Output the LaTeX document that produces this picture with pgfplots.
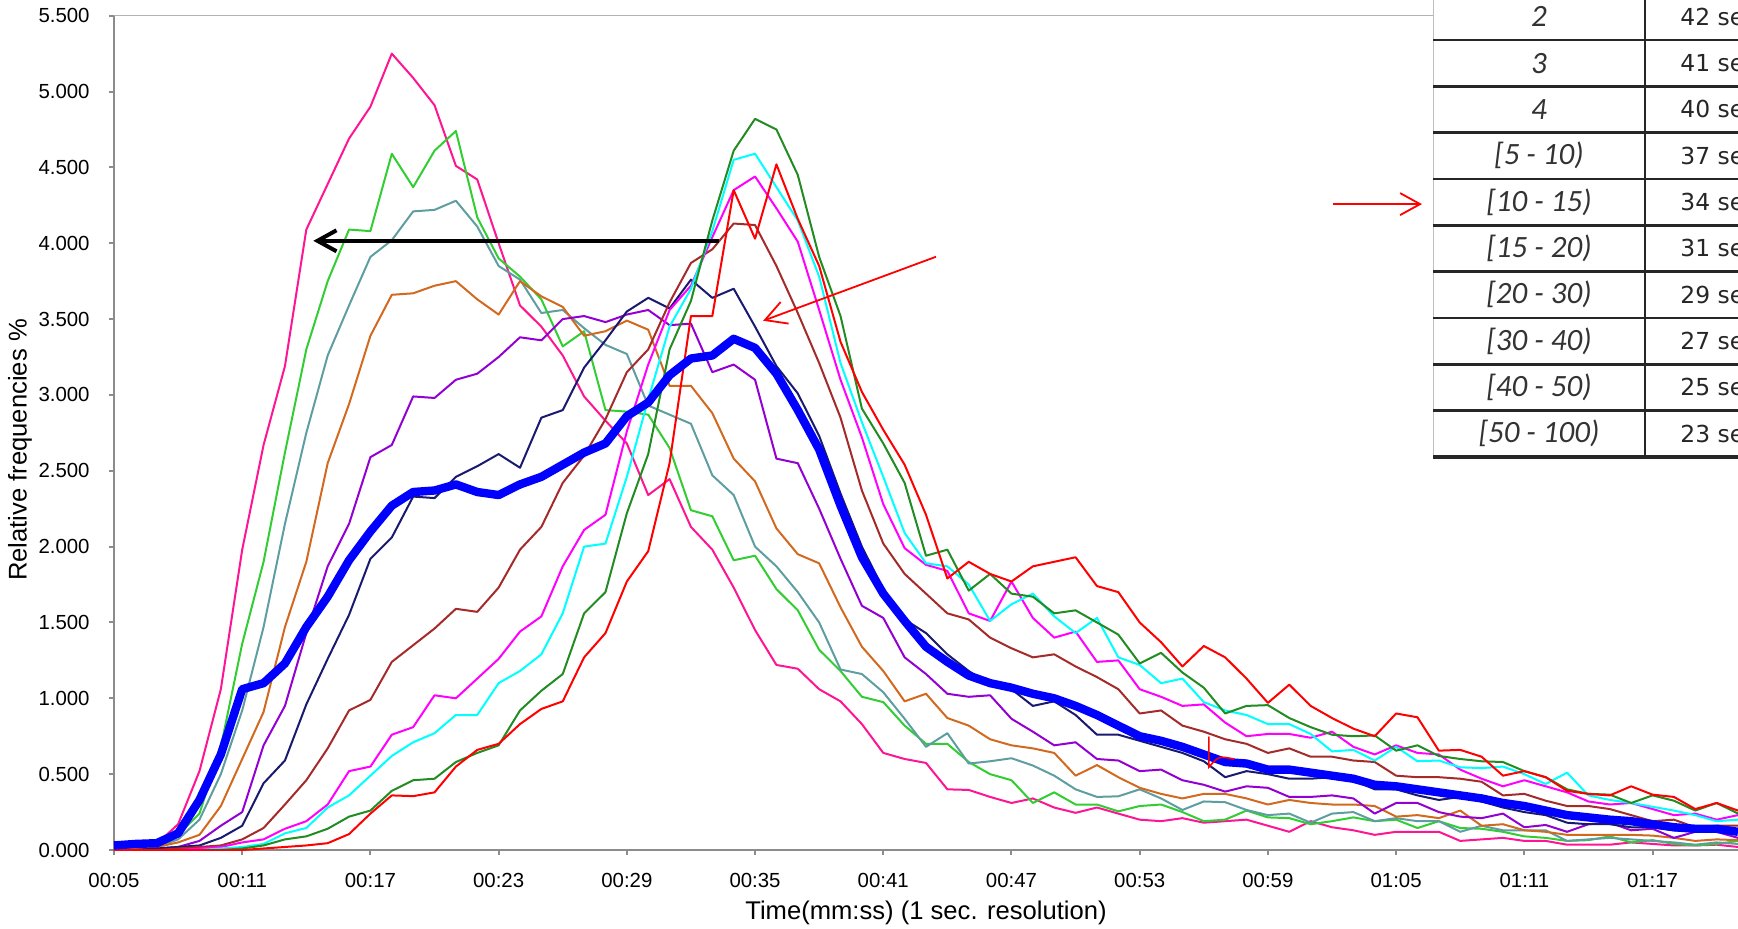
\documentclass[border=0pt]{standalone}
\usepackage{fontspec}
\setmainfont{Liberation Sans}
\newfontfamily\carlito{Carlito}
\newfontfamily\dejavu{DejaVu Sans}
\usepackage{pgfplots}
\pgfplotsset{compat=1.18}
\usepackage{pgfplotstable}
\usetikzlibrary{arrows.meta}

\definecolor{cHP}{HTML}{FF1493}
\definecolor{cLG}{HTML}{32CD32}
\definecolor{cCB}{HTML}{5F9EA0}
\definecolor{cOR}{HTML}{D2691E}
\definecolor{cDV}{HTML}{9400D3}
\definecolor{cNV}{HTML}{191970}
\definecolor{cBL}{HTML}{0000FF}
\definecolor{cBR}{HTML}{A52A2A}
\definecolor{cMG}{HTML}{FF00FF}
\definecolor{cCY}{HTML}{00FFFF}
\definecolor{cFG}{HTML}{228B22}
\definecolor{cRD}{HTML}{FF0000}
\definecolor{axgray}{HTML}{8C8C8C}

\pgfplotstableread{
t hp lg cb or dv nv bl br mg cy fg rd
5 0.02 0.00 0.01 0.00 0.00 0.00 0.03 0.00 0.00 0.00 0.00 0.00
6 0.05 0.01 0.01 0.01 0.00 0.00 0.04 0.00 0.00 0.00 0.00 0.00
7 0.04 0.02 0.02 0.02 0.01 0.01 0.045 0.00 0.00 0.00 0.00 0.00
8 0.17 0.10 0.07 0.05 0.02 0.02 0.11 0.01 0.00 0.00 0.00 0.00
9 0.52 0.24 0.20 0.10 0.06 0.03 0.33 0.02 0.01 0.00 0.00 0.00
10 1.06 0.68 0.50 0.29 0.16 0.08 0.63 0.03 0.02 0.01 0.00 0.00
11 1.98 1.36 0.92 0.60 0.25 0.16 1.06 0.07 0.05 0.02 0.01 0.00
12 2.67 1.90 1.47 0.91 0.69 0.44 1.10 0.145 0.07 0.04 0.03 0.01
13 3.19 2.62 2.15 1.47 0.95 0.59 1.23 0.30 0.14 0.11 0.07 0.02
14 4.09 3.30 2.75 1.90 1.43 0.96 1.47 0.46 0.19 0.145 0.09 0.03
15 4.39 3.75 3.26 2.55 1.87 1.26 1.67 0.67 0.30 0.28 0.14 0.045
16 4.69 4.09 3.59 2.94 2.15 1.55 1.91 0.92 0.52 0.36 0.22 0.105
17 4.90 4.08 3.91 3.39 2.59 1.92 2.10 0.99 0.55 0.49 0.26 0.24
18 5.25 4.59 4.02 3.66 2.67 2.06 2.27 1.24 0.76 0.62 0.39 0.36
19 5.09 4.37 4.21 3.67 2.99 2.33 2.36 1.35 0.81 0.71 0.46 0.355
20 4.91 4.61 4.22 3.72 2.98 2.32 2.37 1.46 1.02 0.77 0.47 0.38
21 4.51 4.74 4.28 3.75 3.10 2.46 2.41 1.59 1.00 0.89 0.58 0.55
22 4.42 4.17 4.11 3.63 3.14 2.53 2.36 1.57 1.13 0.89 0.64 0.66
23 4.00 3.90 3.85 3.53 3.25 2.61 2.34 1.73 1.26 1.10 0.69 0.70
24 3.59 3.78 3.76 3.75 3.38 2.52 2.41 1.98 1.44 1.18 0.92 0.83
25 3.45 3.63 3.54 3.65 3.36 2.85 2.46 2.13 1.54 1.29 1.05 0.93
26 3.26 3.32 3.56 3.58 3.50 2.90 2.54 2.42 1.87 1.56 1.16 0.98
27 2.99 3.42 3.44 3.39 3.52 3.18 2.62 2.60 2.11 2.00 1.56 1.27
28 2.83 2.90 3.33 3.42 3.48 3.36 2.68 2.84 2.21 2.02 1.70 1.43
29 2.68 2.89 3.27 3.49 3.53 3.55 2.86 3.15 2.76 2.46 2.22 1.77
30 2.34 2.87 2.93 3.43 3.56 3.64 2.95 3.30 3.20 2.97 2.61 1.97
31 2.445 2.65 2.87 3.06 3.46 3.57 3.13 3.61 3.56 3.45 3.30 2.55
32 2.13 2.24 2.81 3.06 3.47 3.76 3.24 3.87 3.72 3.70 3.62 3.52
33 1.98 2.20 2.47 2.88 3.15 3.64 3.26 3.96 4.04 4.08 4.15 3.52
34 1.73 1.91 2.34 2.58 3.20 3.70 3.37 4.13 4.35 4.55 4.61 4.35
35 1.45 1.94 2.00 2.43 3.10 3.45 3.31 4.12 4.44 4.59 4.82 4.03
36 1.22 1.72 1.87 2.12 2.58 3.19 3.14 3.85 4.23 4.37 4.75 4.52
37 1.195 1.58 1.70 1.95 2.55 3.01 2.90 3.54 4.01 4.15 4.45 4.16
38 1.06 1.32 1.50 1.89 2.25 2.73 2.64 3.21 3.56 3.78 3.91 3.85
39 0.98 1.18 1.19 1.60 1.92 2.35 2.27 2.85 3.10 3.21 3.52 3.35
40 0.83 1.01 1.16 1.34 1.61 2.00 1.93 2.37 2.72 2.82 2.91 3.02
41 0.64 0.975 1.04 1.18 1.53 1.72 1.69 2.02 2.28 2.46 2.68 2.77
42 0.60 0.82 0.865 0.98 1.27 1.52 1.51 1.82 1.99 2.09 2.42 2.54
43 0.574 0.70 0.68 1.03 1.16 1.43 1.34 1.69 1.88 1.89 1.94 2.21
44 0.40 0.70 0.77 0.87 1.03 1.29 1.24 1.56 1.84 1.87 1.98 1.79
45 0.396 0.58 0.57 0.82 1.01 1.18 1.15 1.52 1.56 1.75 1.71 1.90
46 0.35 0.50 0.585 0.73 1.02 1.09 1.10 1.40 1.51 1.51 1.82 1.82
47 0.31 0.46 0.605 0.69 0.865 1.06 1.07 1.33 1.77 1.62 1.69 1.77
48 0.34 0.31 0.557 0.67 0.78 0.95 1.03 1.27 1.53 1.69 1.67 1.87
49 0.28 0.38 0.49 0.64 0.69 0.98 1.00 1.29 1.40 1.54 1.56 1.90
50 0.245 0.30 0.40 0.49 0.71 0.89 0.95 1.21 1.44 1.43 1.58 1.93
51 0.28 0.30 0.35 0.56 0.60 0.76 0.89 1.14 1.24 1.53 1.50 1.74
52 0.24 0.255 0.354 0.48 0.59 0.76 0.82 1.06 1.25 1.27 1.42 1.70
53 0.20 0.29 0.40 0.41 0.52 0.72 0.75 0.90 1.06 1.22 1.23 1.50
54 0.19 0.30 0.34 0.37 0.53 0.68 0.72 0.92 1.01 1.10 1.30 1.37
55 0.21 0.25 0.264 0.34 0.46 0.64 0.68 0.82 0.95 1.13 1.17 1.21
56 0.18 0.19 0.32 0.37 0.43 0.585 0.63 0.78 0.96 0.975 1.07 1.345
57 0.19 0.20 0.315 0.37 0.385 0.48 0.58 0.73 0.84 0.92 0.90 1.27
58 0.20 0.26 0.264 0.34 0.42 0.52 0.57 0.70 0.75 0.89 0.95 1.13
59 0.16 0.215 0.23 0.30 0.41 0.50 0.53 0.64 0.765 0.83 0.955 0.97
60 0.12 0.21 0.24 0.33 0.35 0.47 0.53 0.67 0.765 0.83 0.87 1.09
61 0.19 0.17 0.18 0.31 0.35 0.47 0.51 0.615 0.74 0.765 0.81 0.95
62 0.15 0.19 0.24 0.30 0.36 0.48 0.49 0.615 0.78 0.65 0.76 0.87
63 0.13 0.215 0.25 0.30 0.34 0.46 0.47 0.59 0.68 0.66 0.75 0.80
64 0.10 0.19 0.19 0.29 0.24 0.40 0.43 0.58 0.63 0.59 0.755 0.75
65 0.12 0.20 0.21 0.22 0.31 0.40 0.42 0.49 0.69 0.68 0.655 0.90
66 0.12 0.145 0.19 0.23 0.31 0.36 0.40 0.48 0.64 0.585 0.69 0.875
67 0.12 0.19 0.19 0.21 0.25 0.33 0.38 0.48 0.63 0.59 0.62 0.655
68 0.06 0.145 0.12 0.26 0.22 0.35 0.36 0.47 0.53 0.545 0.60 0.66
69 0.07 0.14 0.16 0.16 0.21 0.32 0.34 0.45 0.47 0.54 0.585 0.615
70 0.08 0.12 0.13 0.17 0.24 0.28 0.31 0.36 0.42 0.55 0.58 0.49
71 0.06 0.09 0.13 0.13 0.15 0.25 0.29 0.37 0.46 0.50 0.52 0.52
72 0.06 0.08 0.13 0.12 0.165 0.23 0.26 0.325 0.42 0.435 0.48 0.48
73 0.035 0.06 0.06 0.10 0.12 0.18 0.23 0.29 0.38 0.51 0.40 0.39
74 0.035 0.065 0.07 0.10 0.17 0.17 0.215 0.29 0.32 0.36 0.37 0.37
75 0.035 0.09 0.08 0.10 0.18 0.17 0.20 0.27 0.30 0.33 0.365 0.36
76 0.05 0.05 0.07 0.10 0.13 0.15 0.19 0.23 0.31 0.31 0.31 0.42
77 0.04 0.065 0.06 0.095 0.14 0.15 0.17 0.19 0.27 0.285 0.36 0.365
78 0.03 0.04 0.05 0.08 0.08 0.13 0.15 0.20 0.23 0.26 0.325 0.35
79 0.03 0.03 0.035 0.06 0.12 0.13 0.14 0.15 0.24 0.23 0.26 0.27
80 0.035 0.04 0.05 0.07 0.12 0.12 0.14 0.16 0.20 0.19 0.31 0.31
81 0.02 0.06 0.04 0.065 0.08 0.12 0.12 0.16 0.23 0.20 0.24 0.26
}\data

\begin{document}
\begin{tikzpicture}
\begin{axis}[
  at={(0pt,0pt)}, anchor=south west,
  scale only axis, width=812pt, height=417.15pt,
  xmin=5, xmax=81, ymin=0, ymax=5.5,
  axis x line=bottom, axis y line=left,
  axis line style={-, draw=axgray, line width=1pt},
  tick align=outside, major tick length=2.5pt,
  tick style={draw=axgray, line width=1pt},
  xtick={5,11,17,23,29,35,41,47,53,59,65,71,77},
  xticklabels={00:05,00:11,00:17,00:23,00:29,00:35,00:41,00:47,00:53,00:59,01:05,01:11,01:17},
  ytick={0,0.5,1,1.5,2,2.5,3,3.5,4,4.5,5,5.5},
  /pgf/number format/.cd, fixed, fixed zerofill, precision=3, assume math mode=true,
  /pgfplots/.cd,
  tick label style={font=\fontsize{10.2}{12}\selectfont, text=black},
  yticklabel style={anchor=east, inner sep=0pt, xshift=-9.5pt},
  xticklabel style={anchor=north, inner sep=0pt, yshift=-8.8pt},
  every axis plot/.append style={line join=round, mark=none},
]
\addplot[cHP, line width=1pt] table[x=t,y=hp]{\data};
\addplot[cLG, line width=1pt] table[x=t,y=lg]{\data};
\addplot[cCB, line width=1pt] table[x=t,y=cb]{\data};
\addplot[cOR, line width=1pt] table[x=t,y=or]{\data};
\addplot[cDV, line width=1pt] table[x=t,y=dv]{\data};
\addplot[cNV, line width=1pt] table[x=t,y=nv]{\data};
\addplot[cBR, line width=1pt] table[x=t,y=br]{\data};
\addplot[cMG, line width=1pt] table[x=t,y=mg]{\data};
\addplot[cCY, line width=1pt] table[x=t,y=cy]{\data};
\addplot[cFG, line width=1pt] table[x=t,y=fg]{\data};
\addplot[cRD, line width=1pt] table[x=t,y=rd]{\data};
\addplot[cBL, line width=4.2pt] table[x=t,y=bl]{\data};
% annotations
\draw[black, line width=2pt, -{Straight Barb[length=9.5pt,width=10.5pt]}] (axis cs:33.33,4.016) -- (axis cs:14.33,4.016);
\draw[cRD, line width=0.9pt, -{Straight Barb[length=10.5pt,width=11.5pt]}] (axis cs:43.47,3.911) -- (axis cs:35.38,3.489);
\draw[cRD, line width=0.9pt, -{Straight Barb[length=10pt,width=11pt]}] (axis cs:62.04,4.258) -- (axis cs:66.21,4.258);
\draw[cRD, line width=0.8pt, line cap=round] (axis cs:56.24,0.745) -- (axis cs:56.24,0.547) .. controls (axis cs:56.7,0.62) .. (axis cs:57.4,0.60);
\end{axis}
% top border of plot area
\draw[gray!60, line width=0.6pt] (0pt,417.15pt) -- (659.5pt,417.15pt);
% axis labels
\node[rotate=90, anchor=center, inner sep=0pt, font=\fontsize{12.8}{15}\selectfont] at (-47pt,200pt) {Relative frequencies \%};
\node[anchor=north, inner sep=0pt, font=\fontsize{12.8}{15}\selectfont] at (406pt,-25.5pt) {Time(mm:ss) (1 sec. resolution)};
% table
\fill[white] (659.5pt,196.5pt) rectangle (830pt,432pt);
\draw[gray!50, line width=0.5pt] (659.5pt,196.5pt) -- (659.5pt,432pt);
\foreach \yy in {405,381.85,358.7,335.5,312.35,289.2,266,242.85,219.7}
  \draw[black!85, line width=1.3pt] (659.5pt,\yy pt) -- (830pt,\yy pt);
\draw[black!85, line width=1.8pt] (659.5pt,196.5pt) -- (830pt,196.5pt);
\draw[black!85, line width=1pt] (765.5pt,196.5pt) -- (765.5pt,432pt);
\foreach \lab/\val/\yc in {2/42/416.6, 3/41/393.4, 4/40/370.3, {[5 - 10)}/37/347.1, {[10 - 15)}/34/323.9, {[15 - 20)}/31/300.8, {[20 - 30)}/29/277.6, {[30 - 40)}/27/254.4, {[40 - 50)}/25/231.3, {[50 - 100)}/23/208.1}{
  \node[anchor=center, inner sep=0pt, text=black!80, font=\carlito\itshape\fontsize{15.5}{18}\selectfont] at (712.5pt,\yc pt) {\lab};
  \node[anchor=west, inner sep=0pt, text=black!85, font=\dejavu\fontsize{11.7}{14}\selectfont] at (783pt,\yc pt) {\val\ sec};
}
\pgfresetboundingbox
\path[use as bounding box] (-57pt,-39pt) rectangle (812pt,425pt);
\end{tikzpicture}
\end{document}
